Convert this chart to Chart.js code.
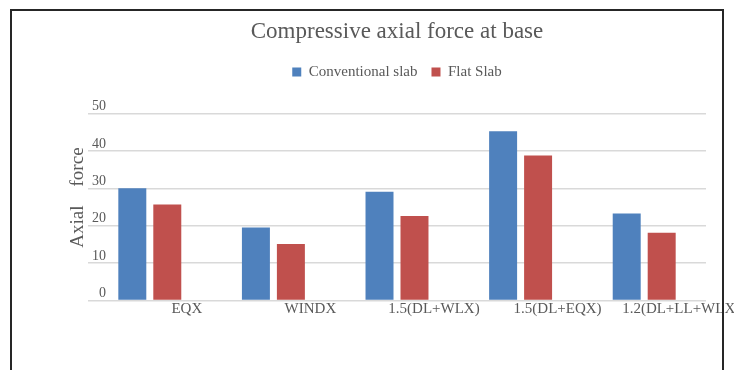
<!DOCTYPE html>
<html>
<head>
<meta charset="utf-8">
<script src="https://cdn.jsdelivr.net/npm/chart.js@4"></script>
<style>
  body { margin: 0; background: #fff; overflow: hidden; }
  #frame {
    position: absolute; left: 10px; top: 9px; z-index: 2;
    width: 710px; height: 400px;
    border: 2px solid #262626; border-bottom: none;
  }
  #wrap { position: absolute; left: 12px; top: 11px; width: 722px; height: 359px; }
</style>
</head>
<body>
<div id="frame"></div>
<div id="wrap"><canvas id="axialChart"></canvas></div>
<script>
const categories = ['EQX', 'WINDX', '1.5(DL+WLX)', '1.5(DL+EQX)', '1.2(DL+LL+WLX)'];
const conventionalSlab = [30.0, 19.5, 29.1, 45.3, 23.3];
const flatSlab = [25.7, 15.1, 22.6, 38.8, 18.1];

const textColor = '#595959';
const serif = 'Liberation Serif, Times New Roman, serif';

// push the plot down below the legend
const legendGap = {
    id: 'legendGap',
    beforeInit(chart) {
        const origFit = chart.legend.fit;
        chart.legend.fit = function () {
            origFit.bind(chart.legend)();
            this.height += 24;
        };
    }
};

const ctx = document.getElementById('axialChart');

new Chart(ctx, {
    type: 'bar',
    data: {
        labels: categories,
        datasets: [{
            label: 'Conventional slab',
            data: conventionalSlab,
            backgroundColor: '#4F81BD',
            borderWidth: 0
        }, {
            label: 'Flat Slab',
            data: flatSlab,
            backgroundColor: '#C0504D',
            borderWidth: 0
        }]
    },
    options: {
        responsive: true,
        maintainAspectRatio: false,
        animation: false,
        categoryPercentage: 0.566,
        barPercentage: 0.8,
        layout: { padding: { left: 52.5, right: 28, top: 0, bottom: 51.5 } },
        plugins: {
            title: {
                display: true,
                text: 'Compressive axial force at base',
                color: textColor,
                fullSize: false,
                font: { family: serif, size: 23, weight: 'normal' },
                padding: { top: 7, bottom: 5 }
            },
            legend: {
                fullSize: false,
                labels: {
                    color: textColor,
                    boxWidth: 9,
                    boxHeight: 9,
                    padding: 14,
                    font: { family: serif, size: 15 }
                }
            },
            tooltip: { enabled: false }
        },
        scales: {
            x: {
                grid: { display: false, tickLength: 0 },
                border: { display: false },
                ticks: {
                    color: textColor,
                    font: { family: serif, size: 15 },
                    padding: 0,
                    labelOffset: 37,
                    autoSkip: false,
                    maxRotation: 0
                }
            },
            y: {
                min: 0,
                max: 50,
                grid: { color: '#d9d9d9', lineWidth: 1.5, drawTicks: false, tickLength: 0 },
                border: { display: false },
                ticks: {
                    stepSize: 10,
                    mirror: true,
                    crossAlign: 'far',
                    padding: 4,
                    labelOffset: -7,
                    color: textColor,
                    font: { family: serif, size: 14 }
                },
                title: {
                    display: true,
                    text: '    Axial    force',
                    color: textColor,
                    font: { family: serif, size: 19, lineHeight: 1 },
                    padding: { top: 4, bottom: -7.5 }
                }
            }
        }
    },
    plugins: [legendGap]
});
</script>
</body>
</html>
